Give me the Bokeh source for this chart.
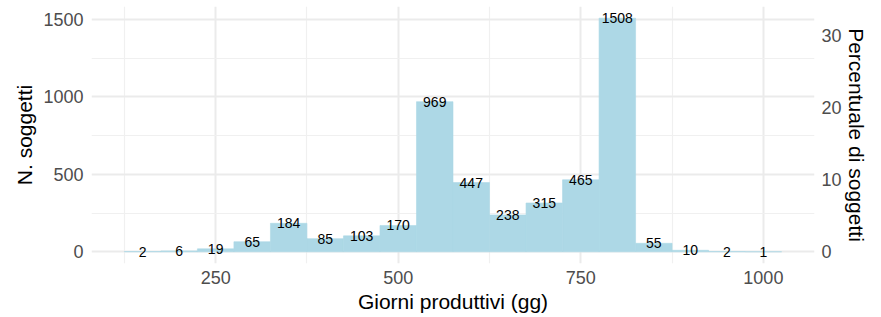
from bokeh.plotting import figure
from bokeh.models import Range1d, LinearAxis, FixedTicker, ColumnDataSource
from bokeh.embed import file_html
from bokeh.resources import INLINE
from bokeh.core.properties import value

# ---- data ----
bin_centers = [150, 200, 250, 300, 350, 400, 450, 500, 550, 600,
               650, 700, 750, 800, 850, 900, 950, 1000]
counts = [2, 6, 19, 65, 184, 85, 103, 170, 969, 447,
          238, 315, 465, 1508, 55, 10, 2, 1]
bin_width = 50
x_ticks = [250, 500, 750, 1000]
x_minor = [125, 375, 625, 875]
y_ticks = [0, 500, 1000, 1500]
y_minor = [250, 750, 1250]
pct_ticks = [0, 10, 20, 30]

total = sum(counts)
labels = [str(c) for c in counts]

FONT = "Liberation Sans"
GRID = "#EBEBEB"
BAR = "#ADD8E6"

y_lo, y_hi = -75.4, 1583.4
p = figure(width=881, height=317, output_backend="svg", toolbar_location=None,
           x_range=Range1d(80, 1070), y_range=Range1d(y_lo, y_hi),
           min_border_left=91, min_border_right=67, min_border_top=6,
           min_border_bottom=54)
p.extra_y_ranges = {"pct": Range1d(y_lo / total * 100, y_hi / total * 100)}
p.outline_line_color = None
p.background_fill_color = "white"
p.border_fill_color = "white"

src = ColumnDataSource(dict(x=bin_centers, top=counts, label=labels))
p.vbar(x="x", width=bin_width, top="top", bottom=0, source=src,
       fill_color=BAR, line_color=BAR, line_width=0.6)
p.text(x="x", y="top", text="label", source=src, text_align="center",
       text_baseline="middle", text_font=value(FONT), text_font_size="14px",
       text_color="black")

# grids
p.xgrid.ticker = FixedTicker(ticks=x_ticks, minor_ticks=x_minor)
p.ygrid.ticker = FixedTicker(ticks=y_ticks, minor_ticks=y_minor)
for g in (p.xgrid, p.ygrid):
    g.grid_line_color = GRID
    g.grid_line_width = 2
    g.minor_grid_line_color = "#F0F0F0"
    g.minor_grid_line_width = 1.2

# axes
p.xaxis.ticker = FixedTicker(ticks=x_ticks)
p.yaxis.ticker = FixedTicker(ticks=y_ticks)
p.xaxis.axis_label = "Giorni produttivi (gg)"
p.yaxis.axis_label = "N. soggetti"

right = LinearAxis(y_range_name="pct", ticker=FixedTicker(ticks=pct_ticks),
                   axis_label="Percentuale di soggetti")
p.add_layout(right, "right")

for ax in (p.xaxis[0], p.yaxis[0], right):
    ax.axis_line_color = None
    ax.major_tick_line_color = None
    ax.minor_tick_line_color = None
    ax.major_tick_out = 0
    ax.major_tick_in = 0
    ax.major_label_text_font = FONT
    ax.major_label_text_font_size = "18px"
    ax.major_label_text_color = "#4D4D4D"
    ax.axis_label_text_font = FONT
    ax.axis_label_text_font_size = "21px"
    ax.axis_label_text_font_style = "normal"
    ax.axis_label_text_color = "black"

p.xaxis.major_label_standoff = 7
p.xaxis.axis_label_standoff = 3
p.yaxis.major_label_standoff = 8
p.yaxis.axis_label_standoff = 4
right.major_label_standoff = 7
right.axis_label_standoff = 0

open("out.html", "w").write(file_html(p, INLINE))
